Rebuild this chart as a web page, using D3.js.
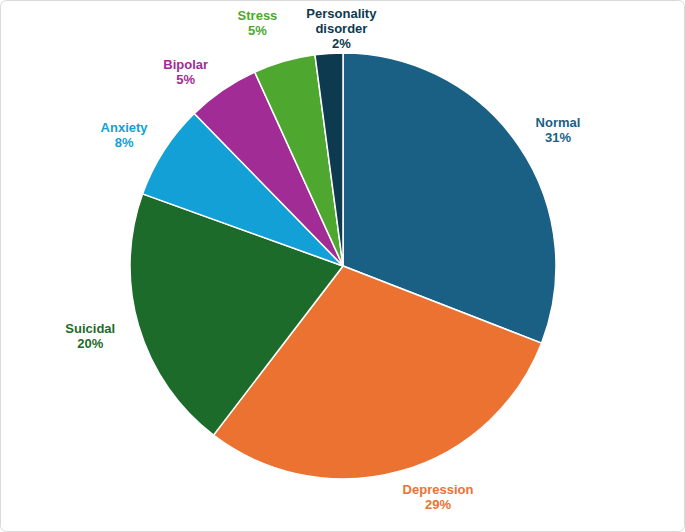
<!DOCTYPE html>
<html><head><meta charset="utf-8">
<script src="https://cdn.jsdelivr.net/npm/d3@7"></script>
<style>body{margin:0;background:#fff}</style></head>
<body><svg id="c" width="685" height="532"></svg>
<script>
const categories = ["Normal","Depression","Suicidal","Anxiety","Bipolar","Stress","Personality disorder"];
const values = [30.9,29.5,20.1,7.2,5.5,4.7,2.1];
const labels = ["31%","29%","20%","8%","5%","5%","2%"];
const colors = ["#1a5f84","#ec7232","#1d6b2a","#12a0d7","#a12c95","#4ea72e","#0e3a50"];
const labelLines = [["Normal"],["Depression"],["Suicidal"],["Anxiety"],["Bipolar"],["Stress"],["Personality","disorder"]];

const svg = d3.select("#c");
svg.append("rect").attr("x",0.5).attr("y",0.5).attr("width",684).attr("height",531)
  .attr("rx",6).attr("fill","#fff").attr("stroke","#d9d9d9");
const cx=343, cy=266, r=213;
const g = svg.append("g").attr("transform",`translate(${cx},${cy})`);
const pie = d3.pie().sort(null).value(d=>d)(values);
const arc = d3.arc().innerRadius(0).outerRadius(r);
g.selectAll("path").data(pie).join("path").attr("d",arc)
  .attr("fill",(d,i)=>colors[i]).attr("stroke","#fff").attr("stroke-width",1.5);
const la = d3.arc().innerRadius(252).outerRadius(252);
const adj=[[7,7],[27,-11],[-11,-1],[-7,6],[-15,14],[-16,0],[15,14]];
pie.forEach((d,i)=>{
  const [x,y]=la.centroid(d);
  const lines=labelLines[i].concat([labels[i]]);
  const t=g.append("text").attr("text-anchor","middle")
    .attr("font-family","Liberation Sans, Arial, sans-serif").attr("font-weight","bold")
    .attr("font-size",13).attr("fill",colors[i]);
  const y0=y+adj[i][1]-(lines.length-1)*15/2+4;
  lines.forEach((l,k)=>t.append("tspan").attr("x",x+adj[i][0]).attr("y",y0+k*15).text(l));
});
</script></body></html>
